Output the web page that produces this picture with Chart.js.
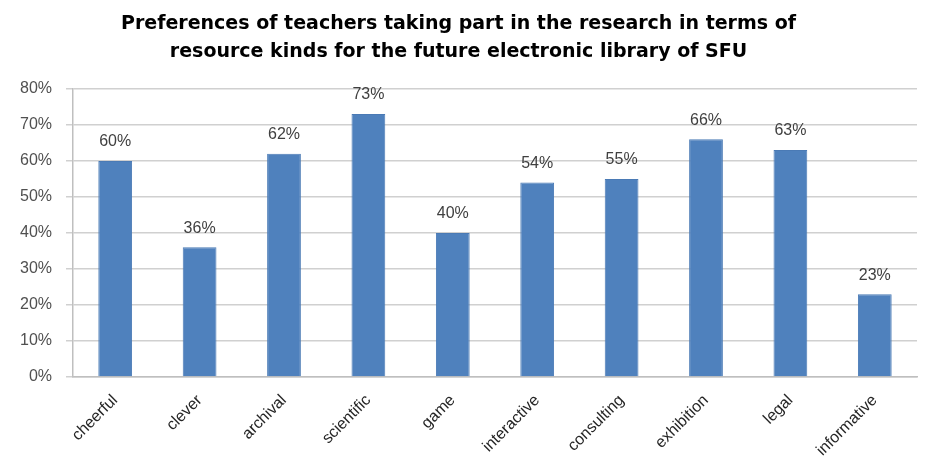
<!DOCTYPE html>
<html lang="en">
<head>
    <meta charset="UTF-8">
    <title>Preferences of teachers</title>
    <script src="https://cdn.jsdelivr.net/npm/chart.js"></script>
    <style>
        html, body { margin: 0; padding: 0; background: #ffffff; }
        #wrap { width: 928px; height: 467px; }
    </style>
</head>
<body>
    <div id="wrap"><canvas id="prefChart" width="928" height="467"></canvas></div>

    <script>
        const kinds = ['cheerful', 'clever', 'archival', 'scientific', 'game',
                       'interactive', 'consulting', 'exhibition', 'legal', 'informative'];
        const shares = [60, 36, 62, 73, 40, 54, 55, 66, 63, 23];
        const titleLines = [
            'Preferences of teachers taking part in the research in terms of',
            'resource kinds for the future electronic library of SFU'
        ];

        // values above each bar
        const valueLabels = {
            id: 'valueLabels',
            afterDatasetsDraw(chart) {
                const c = chart.ctx;
                const meta = chart.getDatasetMeta(0);
                c.save();
                c.font = '16px "Liberation Sans", Arial, sans-serif';
                c.fillStyle = '#404040';
                c.textAlign = 'center';
                c.textBaseline = 'bottom';
                meta.data.forEach((bar, i) => {
                    c.fillText(shares[i] + '%', bar.x, bar.y - 11);
                });
                c.restore();
            }
        };

        const ctx = document.getElementById('prefChart').getContext('2d');
        new Chart(ctx, {
            type: 'bar',
            data: {
                labels: kinds,
                datasets: [{
                    data: shares,
                    backgroundColor: '#4f81bd',
                    borderColor: '#4a7ab5',
                    borderWidth: 1,
                    categoryPercentage: 0.8,
                    barPercentage: 0.5
                }]
            },
            options: {
                responsive: false,
                animation: false,
                layout: { padding: { left: 0, right: 11, top: 10, bottom: 0 } },
                plugins: {
                    legend: { display: false },
                    tooltip: { enabled: false },
                    title: {
                        display: true,
                        text: titleLines,
                        color: '#000000',
                        font: { family: '"DejaVu Sans", sans-serif', size: 19, weight: 'bold', lineHeight: 1.47 },
                        padding: { top: 0, bottom: 23 }
                    }
                },
                scales: {
                    x: {
                        grid: { display: false, drawTicks: false },
                        border: { color: '#bfbfbf', width: 1.5 },
                        ticks: {
                            color: '#262626',
                            font: { family: '"Liberation Sans", Arial, sans-serif', size: 16 },
                            minRotation: 45,
                            maxRotation: 45,
                            padding: 14
                        },
                        afterFit(scale) { scale.height = 90; }
                    },
                    y: {
                        min: 0,
                        max: 80,
                        grid: { color: '#d0d0d0', lineWidth: 1.5, tickLength: 7 },
                        border: { color: '#bfbfbf', width: 1.5 },
                        ticks: {
                            stepSize: 10,
                            color: '#505050',
                            font: { family: '"Liberation Sans", Arial, sans-serif', size: 16 },
                            padding: 14,
                            callback: v => v + '%'
                        },
                        afterFit(scale) { scale.width = 73; }
                    }
                }
            },
            plugins: [valueLabels]
        });
    </script>
</body>
</html>
